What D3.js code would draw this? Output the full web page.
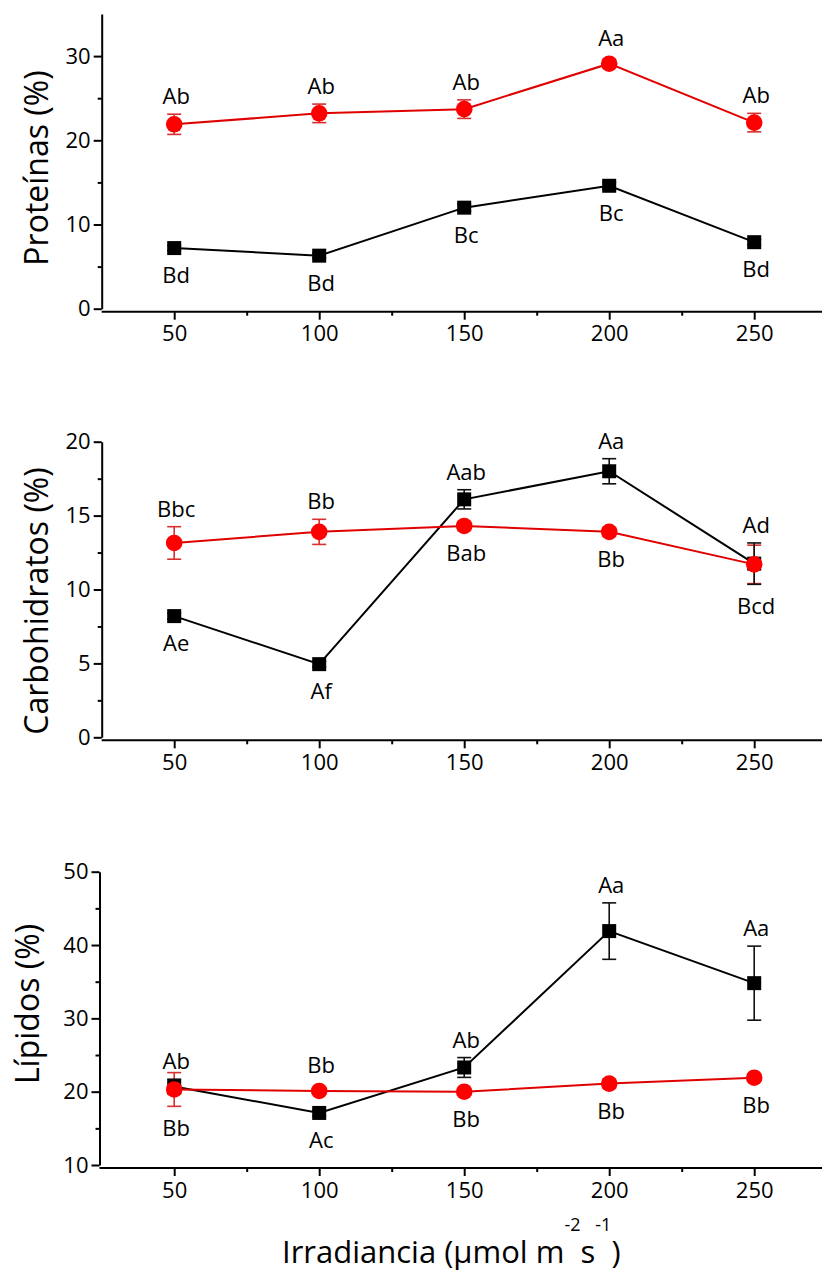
<!DOCTYPE html>
<html>
<head>
<meta charset="utf-8">
<script src="https://cdn.jsdelivr.net/npm/d3@7"></script>
<style>
  body { margin: 0; background: #fff; }
  svg text { font-family: "Open Sans", sans-serif; fill: #000; }
  .axis path, .axis line { stroke: #000; stroke-width: 2; }
  .axis text { font-size: 22px; }
</style>
</head>
<body>
<svg id="svg" width="822" height="1274"></svg>
<script>
// irradiance levels (µmol m-2 s-1)
const irradiance = [50, 100, 150, 200, 250];

// Proteínas
const protBlack = [7.2, 6.3, 12.0, 14.6, 7.9];
const protBlackErr = [0.3, 0.3, 0.4, 0.4, 0.3];
const protBlackLbl = ['Bd', 'Bd', 'Bc', 'Bc', 'Bd'];
const protBlackSide = ['below', 'below', 'below', 'below', 'below'];
const protRed = [21.9, 23.2, 23.7, 29.1, 22.1];
const protRedErr = [1.2, 1.1, 1.1, 0.5, 1.1];
const protRedLbl = ['Ab', 'Ab', 'Ab', 'Aa', 'Ab'];
const protRedSide = ['above', 'above', 'above', 'above', 'above'];

// Carbohidratos
const carbBlack = [8.2, 4.95, 16.1, 18.0, 11.75];
const carbBlackErr = [0.2, 0.2, 0.65, 0.85, 1.4];
const carbBlackLbl = ['Ae', 'Af', 'Aab', 'Aa', 'Ad'];
const carbBlackSide = ['below', 'below', 'above', 'above', 'above'];
const carbRed = [13.15, 13.9, 14.3, 13.9, 11.7];
const carbRedErr = [1.1, 0.85, 0.3, 0.3, 1.3];
const carbRedLbl = ['Bbc', 'Bb', 'Bab', 'Bb', 'Bcd'];
const carbRedSide = ['above', 'above', 'below', 'below', 'below'];

// Lípidos
const lipBlack = [20.7, 17.1, 23.3, 41.9, 34.8];
const lipBlackErr = [1.0, 0.4, 1.35, 3.85, 5.05];
const lipBlackLbl = ['Ab', 'Ac', 'Ab', 'Aa', 'Aa'];
const lipBlackSide = ['above', 'below', 'above', 'above', 'above'];
const lipRed = [20.3, 20.1, 20.0, 21.1, 21.9];
const lipRedErr = [2.3, 0.4, 0.4, 0.6, 0.5];
const lipRedLbl = ['Bb', 'Bb', 'Bb', 'Bb', 'Bb'];
const lipRedSide = ['below', 'above', 'below', 'below', 'below'];

// axis ticks
const xTicks = [50, 100, 150, 200, 250];
const xMinor = [75, 125, 175, 225];
const protTicks = [0, 10, 20, 30], protMinor = [5, 15, 25];
const carbTicks = [0, 5, 10, 15, 20], carbMinor = [2.5, 7.5, 12.5, 17.5];
const lipTicks = [10, 20, 30, 40, 50], lipMinor = [15, 25, 35, 45];

const svg = d3.select('#svg');
const x = d3.scaleLinear().domain([25, 275]).range([101.7, 826.7]);

const panels = [
  { title: 'Proteínas (%)', domain: [0, 35], range: [308.7, 14], ax: 101.7, tx: 48, ty: 168,
    ticks: protTicks, minor: protMinor,
    black: [protBlack, protBlackErr, protBlackLbl, protBlackSide],
    red: [protRed, protRedErr, protRedLbl, protRedSide] },
  { title: 'Carbohidratos (%)', domain: [0, 20], range: [737.3, 441.7], ax: 101.7, tx: 48, ty: 601,
    ticks: carbTicks, minor: carbMinor,
    black: [carbBlack, carbBlackErr, carbBlackLbl, carbBlackSide],
    red: [carbRed, carbRedErr, carbRedLbl, carbRedSide] },
  { title: 'Lípidos (%)', domain: [10, 50], range: [1165, 871.7], ax: 99.5, tx: 39, ty: 1004,
    ticks: lipTicks, minor: lipMinor,
    black: [lipBlack, lipBlackErr, lipBlackLbl, lipBlackSide],
    red: [lipRed, lipRedErr, lipRedLbl, lipRedSide] }
];

const RED = '#ff0000';

panels.forEach(p => {
  const y = d3.scaleLinear().domain(p.domain).range(p.range);
  const g = svg.append('g');
  const axisY = p.range[0] + 3;

  // axes
  g.append('g').attr('class', 'axis').attr('transform', `translate(${p.ax},0)`)
    .call(d3.axisLeft(y).tickValues(p.ticks).tickSize(8).tickSizeOuter(0).tickPadding(3).tickFormat(d3.format('d')));
  g.append('g').attr('class', 'axis').attr('transform', `translate(${p.ax},0)`)
    .call(d3.axisLeft(y).tickValues(p.minor).tickSize(4).tickSizeOuter(0).tickFormat(''))
    .select('.domain').remove();
  const xa = g.append('g').attr('class', 'axis').attr('transform', `translate(0,${axisY})`)
    .call(d3.axisBottom(x).tickValues(xTicks).tickSize(8).tickSizeOuter(0).tickPadding(6));
  xa.select('.domain').attr('d', `M${p.ax},0H822`);
  g.append('g').attr('class', 'axis').attr('transform', `translate(0,${axisY})`)
    .call(d3.axisBottom(x).tickValues(xMinor).tickSize(4).tickSizeOuter(0).tickFormat(''))
    .select('.domain').remove();

  g.append('text')
    .attr('transform', `translate(${p.tx},${p.ty}) rotate(-90)`)
    .attr('text-anchor', 'middle')
    .style('font-size', '32px')
    .text(p.title);

  const series = [
    { key: 'black', vals: p.black, line: '#000', err: '#111' },
    { key: 'red', vals: p.red, line: '#e00000', err: '#d83030' }
  ].map(s => ({
    ...s,
    pts: irradiance.map((xv, i) => ({ x: xv, v: s.vals[0][i], e: s.vals[1][i], lbl: s.vals[2][i], side: s.vals[3][i] }))
  }));

  const line = d3.line().x(d => x(d.x)).y(d => y(d.v));

  series.forEach(s => {
    g.append('path').datum(s.pts)
      .attr('d', line).attr('fill', 'none')
      .attr('stroke', s.line).attr('stroke-width', 2);
  });

  // error bars: red first, black on top
  [series[1], series[0]].forEach(s => {
    const eb = g.append('g').attr('stroke', s.err).attr('stroke-width', 1.6);
    s.pts.forEach(d => {
      const cx = x(d.x), y1 = y(d.v + d.e), y2 = y(d.v - d.e);
      eb.append('line').attr('x1', cx).attr('x2', cx).attr('y1', y1).attr('y2', y2);
      eb.append('line').attr('x1', cx - 7).attr('x2', cx + 7).attr('y1', y1).attr('y2', y1);
      eb.append('line').attr('x1', cx - 7).attr('x2', cx + 7).attr('y1', y2).attr('y2', y2);
    });
  });

  // symbols
  g.append('g').selectAll('rect').data(series[0].pts).join('rect')
    .attr('x', d => x(d.x) - 7).attr('y', d => y(d.v) - 7)
    .attr('width', 14).attr('height', 14).attr('fill', '#000');
  g.append('g').selectAll('circle').data(series[1].pts).join('circle')
    .attr('cx', d => x(d.x)).attr('cy', d => y(d.v)).attr('r', 8.3).attr('fill', RED);

  // letter labels
  series.forEach(s => {
    g.append('g').selectAll('text').data(s.pts).join('text')
      .attr('x', d => x(d.x) + 2)
      .attr('y', d => {
        const c = d.side === 'above'
          ? Math.min(y(d.v) - 26, y(d.v + d.e) - 18)
          : Math.max(y(d.v) + 27, y(d.v - d.e) + 22);
        return c + 8;
      })
      .attr('text-anchor', 'middle')
      .style('font-size', '22px')
      .text(d => d.lbl);
  });
});

// x title
const xt = svg.append('text')
  .attr('x', 282).attr('y', 1263)
  .style('font-size', '31px');
xt.append('tspan').text('Irradiancia (µmol m');
xt.append('tspan').attr('dy', -32).style('font-size', '18px').text('-2');
xt.append('tspan').attr('dy', 32).text('s');
xt.append('tspan').attr('dy', -32).style('font-size', '18px').text('-1');
xt.append('tspan').attr('dy', 32).text(')');
</script>
</body>
</html>
